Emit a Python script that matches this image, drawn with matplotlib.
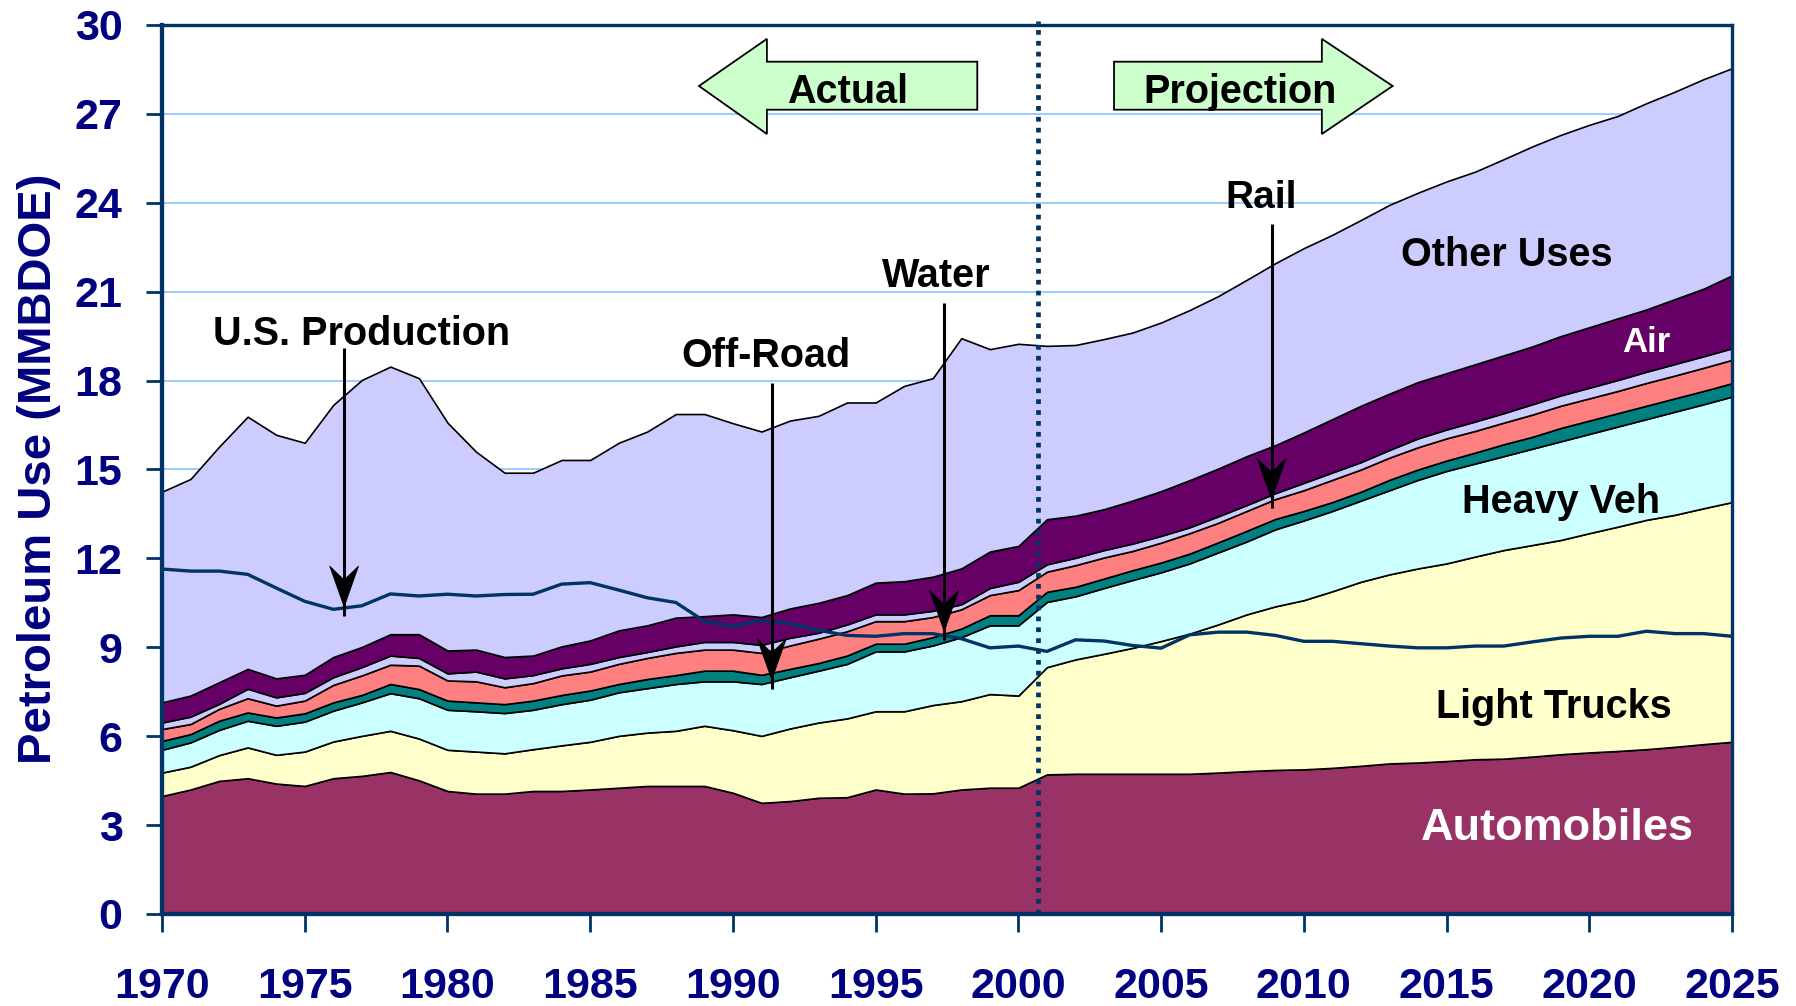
import matplotlib
matplotlib.use("Agg")
import matplotlib.pyplot as plt
from matplotlib.patches import Polygon
from matplotlib import transforms

plt.rcParams['font.family'] = ['Liberation Sans', 'DejaVu Sans']
plt.rcParams['font.weight'] = 'bold'

# petroleum use by mode, million barrels/day oil equivalent, 1970-2025
years = list(range(1970, 2026))

automobiles = [3.98, 4.20, 4.49, 4.58, 4.40, 4.32, 4.58, 4.66, 4.79, 4.51,
               4.15, 4.06, 4.06, 4.15, 4.15, 4.20, 4.26, 4.32, 4.32, 4.32,
               4.09, 3.75, 3.81, 3.92, 3.94, 4.20, 4.06, 4.07, 4.20, 4.26,
               4.26, 4.71, 4.73, 4.73, 4.73, 4.73, 4.73, 4.77, 4.82, 4.86,
               4.88, 4.93, 5.00, 5.08, 5.11, 5.16, 5.22, 5.24, 5.31, 5.39,
               5.45, 5.50, 5.56, 5.64, 5.73, 5.81]
light_trucks = [0.79, 0.77, 0.87, 1.04, 0.97, 1.16, 1.24, 1.35, 1.39, 1.41,
                1.39, 1.42, 1.36, 1.41, 1.54, 1.61, 1.75, 1.80, 1.86, 2.03,
                2.11, 2.26, 2.45, 2.54, 2.66, 2.64, 2.78, 2.98, 2.98, 3.16,
                3.11, 3.62, 3.86, 4.05, 4.25, 4.48, 4.73, 5.00, 5.29, 5.52,
                5.71, 5.96, 6.21, 6.38, 6.55, 6.67, 6.84, 7.04, 7.14, 7.23,
                7.40, 7.57, 7.74, 7.83, 7.96, 8.09]
heavy_veh = [0.77, 0.82, 0.85, 0.90, 0.98, 1.01, 1.04, 1.13, 1.27, 1.36,
             1.35, 1.36, 1.36, 1.33, 1.39, 1.42, 1.47, 1.50, 1.58, 1.50,
             1.65, 1.75, 1.73, 1.75, 1.84, 2.02, 2.02, 2.01, 2.16, 2.32,
             2.37, 2.20, 2.13, 2.22, 2.29, 2.32, 2.37, 2.43, 2.46, 2.60,
             2.69, 2.71, 2.74, 2.84, 2.99, 3.12, 3.14, 3.17, 3.25, 3.33,
             3.35, 3.38, 3.40, 3.48, 3.51, 3.56]
off_road = [0.30, 0.28, 0.31, 0.28, 0.28, 0.28, 0.28, 0.25, 0.31, 0.31,
            0.31, 0.30, 0.30, 0.31, 0.31, 0.31, 0.28, 0.31, 0.30, 0.36,
            0.36, 0.31, 0.28, 0.26, 0.28, 0.26, 0.26, 0.28, 0.29, 0.34,
            0.34, 0.34, 0.32, 0.32, 0.33, 0.33, 0.33, 0.34, 0.36, 0.35,
            0.32, 0.30, 0.30, 0.35, 0.35, 0.35, 0.37, 0.40, 0.40, 0.45,
            0.45, 0.45, 0.45, 0.45, 0.45, 0.45]
water = [0.40, 0.34, 0.40, 0.48, 0.40, 0.43, 0.59, 0.66, 0.65, 0.79,
         0.68, 0.71, 0.57, 0.59, 0.66, 0.64, 0.68, 0.71, 0.75, 0.71,
         0.71, 0.74, 0.79, 0.82, 0.82, 0.76, 0.76, 0.68, 0.65, 0.68,
         0.85, 0.68, 0.73, 0.71, 0.65, 0.67, 0.69, 0.66, 0.67, 0.67,
         0.70, 0.75, 0.75, 0.75, 0.75, 0.75, 0.73, 0.73, 0.75, 0.75,
         0.75, 0.75, 0.77, 0.77, 0.78, 0.79]
rail = [0.22, 0.25, 0.17, 0.32, 0.28, 0.26, 0.26, 0.28, 0.31, 0.26,
        0.24, 0.33, 0.30, 0.27, 0.24, 0.26, 0.23, 0.20, 0.22, 0.26,
        0.26, 0.27, 0.26, 0.20, 0.23, 0.23, 0.23, 0.21, 0.17, 0.24,
        0.28, 0.25, 0.25, 0.25, 0.25, 0.23, 0.20, 0.22, 0.20, 0.20,
        0.25, 0.25, 0.25, 0.26, 0.30, 0.30, 0.32, 0.32, 0.35, 0.35,
        0.36, 0.37, 0.38, 0.39, 0.39, 0.39]
air = [0.68, 0.71, 0.73, 0.67, 0.64, 0.61, 0.68, 0.68, 0.72, 0.80,
       0.77, 0.74, 0.72, 0.66, 0.74, 0.79, 0.90, 0.90, 0.97, 0.87,
       0.93, 0.94, 0.99, 1.01, 0.99, 1.07, 1.12, 1.15, 1.21, 1.23,
       1.21, 1.52, 1.42, 1.38, 1.45, 1.51, 1.59, 1.61, 1.65, 1.62,
       1.70, 1.80, 1.90, 1.90, 1.90, 1.90, 1.93, 1.95, 1.95, 2.00,
       2.04, 2.08, 2.10, 2.19, 2.28, 2.46]
other_uses = [7.11, 7.31, 7.95, 8.51, 8.22, 7.83, 8.51, 9.01, 9.03, 8.64,
              7.69, 6.68, 6.22, 6.17, 6.29, 6.09, 6.33, 6.54, 6.87, 6.82,
              6.45, 6.26, 6.34, 6.31, 6.50, 6.08, 6.59, 6.70, 7.77, 6.83,
              6.82, 5.85, 5.76, 5.74, 5.67, 5.69, 5.74, 5.82, 5.95, 6.14,
              6.22, 6.22, 6.27, 6.37, 6.39, 6.47, 6.50, 6.62, 6.75, 6.79,
              6.83, 6.83, 6.96, 7.00, 7.07, 6.99]
us_production = [11.64, 11.57, 11.57, 11.46, 11.00, 10.55, 10.28, 10.40, 10.80, 10.73,
                 10.79, 10.73, 10.78, 10.79, 11.13, 11.18, 10.93, 10.67, 10.51, 9.88,
                 9.71, 9.91, 9.80, 9.57, 9.40, 9.37, 9.46, 9.46, 9.29, 8.98,
                 9.04, 8.86, 9.25, 9.21, 9.06, 8.97, 9.42, 9.51, 9.51, 9.40,
                 9.20, 9.20, 9.12, 9.04, 8.98, 8.98, 9.04, 9.04, 9.18, 9.31,
                 9.37, 9.37, 9.54, 9.46, 9.46, 9.37]

layer_colors = ['#993366', '#FFFFCC', '#CCFFFF', '#008080',
                '#FF8080', '#CCCCFF', '#660066', '#CCCCFF']

navy = '#000080'
axis_blue = '#003366'

fig = plt.figure(figsize=(17.96, 10.06), dpi=100)
ax = fig.add_axes([0.0902, 0.0915, 0.8742, 0.8837])

ax.set_axisbelow(True)
ax.yaxis.grid(True, color='#99CCFF', lw=1.4)

ax.stackplot(years, automobiles, light_trucks, heavy_veh, off_road, water,
             rail, air, other_uses, colors=layer_colors,
             edgecolor='black', linewidth=1.2, zorder=2)

ax.plot(years, us_production, color=axis_blue, lw=2.4, zorder=4)

# actual / projection split
ax.axvline(2000.7, ymax=1.005, color=axis_blue, lw=3.4,
           linestyle=(0, (1.0, 1.3)), zorder=5, clip_on=False)

ax.set_xlim(1970, 2025)
ax.set_ylim(0, 30)
ax.set_xticks(range(1970, 2026, 5))
ax.set_yticks(range(0, 31, 3))

for side in ['left', 'bottom']:
    ax.spines[side].set_linewidth(3.1)
    ax.spines[side].set_color(axis_blue)
for side in ['top', 'right']:
    ax.spines[side].set_linewidth(2.4)
    ax.spines[side].set_color(axis_blue)

ax.tick_params(axis='y', length=11.5, width=2, color=axis_blue, pad=17,
               labelsize=31, labelcolor=navy)
ax.tick_params(axis='x', length=13, width=2, color=axis_blue, pad=25,
               labelsize=31, labelcolor=navy)

ax.set_ylabel('Petroleum Use (MMBDOE)', fontsize=34, color=navy,
              fontweight='bold', va='center')
ax.yaxis.set_label_coords(-0.0783, 0.501)


def note_arrow(x, y_from, y_to):
    ax.plot([x, x], [y_from, y_to - 0.3], color='black', lw=2.2,
            solid_capstyle='butt', zorder=6)
    head = [(0, 0), (-0.145, 0.41), (0, 0.27), (0.145, 0.41)]
    tr = fig.dpi_scale_trans + transforms.ScaledTranslation(x, y_to, ax.transData)
    ax.add_patch(Polygon(head, closed=True, facecolor='black', edgecolor='black',
                         lw=0.5, transform=tr, zorder=7))


note_arrow(1976.38, 19.09, 10.36)
note_arrow(1991.36, 17.93, 7.90)
note_arrow(1997.40, 20.63, 9.53)
note_arrow(2008.87, 23.29, 13.99)

# green direction arrows
actual_arrow = [(1988.81, 27.94), (1991.19, 29.53), (1991.19, 28.76), (1998.56, 28.76),
                (1998.56, 27.14), (1991.19, 27.14), (1991.19, 26.32)]
proj_arrow = [(2013.11, 27.94), (2010.63, 29.53), (2010.63, 28.76), (2003.35, 28.76),
              (2003.35, 27.14), (2010.63, 27.14), (2010.63, 26.32)]
for pts in [actual_arrow, proj_arrow]:
    ax.add_patch(Polygon(pts, closed=True, facecolor='#CCFFCC',
                         edgecolor='black', lw=1.3, zorder=6))

labels = [
    ('Actual', 1994.01, 27.36, 28.5, 'black'),
    ('Projection', 2007.76, 27.36, 28.5, 'black'),
    ('U.S. Production', 1977.0, 19.20, 28.5, 'black'),
    ('Off-Road', 1991.17, 18.47, 28.5, 'black'),
    ('Water', 1997.13, 21.15, 28.5, 'black'),
    ('Rail', 2008.5, 23.81, 28, 'black'),
    ('Other Uses', 2017.12, 21.85, 28.5, 'black'),
    ('Air', 2021.98, 18.98, 25, 'white'),
    ('Heavy Veh', 2019.0, 13.52, 28.5, 'black'),
    ('Light Trucks', 2018.75, 6.60, 28.5, 'black'),
    ('Automobiles', 2018.87, 2.50, 32.5, 'white'),
]
for txt, x, y, size, col in labels:
    ax.text(x, y, txt, ha='center', va='baseline', fontsize=size,
            fontweight='bold', color=col, zorder=8)

fig.savefig('out.png', dpi=100)
